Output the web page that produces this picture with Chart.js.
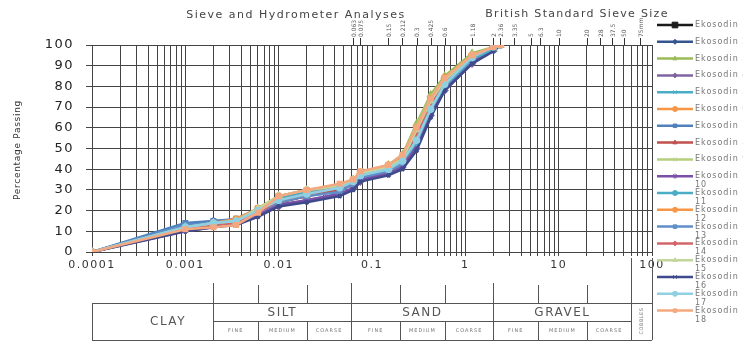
<!DOCTYPE html>
<html>
<head>
<meta charset="utf-8">
<title>Sieve and Hydrometer Analyses</title>
<script src="https://cdn.jsdelivr.net/npm/chart.js@4.4.0/dist/chart.umd.min.js"></script>
<style>
  html, body { margin: 0; padding: 0; background: #fff; overflow: hidden; }
  #wrap { position: relative; width: 743px; height: 343px; }
</style>
</head>
<body>
<div id="wrap"><canvas id="grading" width="743" height="343"></canvas></div>
<script>
// particle size (mm) of each reading: hydrometer first, then BS sieves
const sizes = [0.0001, 0.001, 0.002, 0.0035, 0.006, 0.01, 0.02, 0.045, 0.063, 0.075, 0.15, 0.212, 0.3, 0.425, 0.6, 1.18, 2, 2.36];

const seriesNames = [
  'Ekosodin 1', 'Ekosodin 2', 'Ekosodin 3', 'Ekosodin 4', 'Ekosodin 5', 'Ekosodin 6',
  'Ekosodin 7', 'Ekosodin 8', 'Ekosodin 9', 'Ekosodin 10', 'Ekosodin 11', 'Ekosodin 12',
  'Ekosodin 13', 'Ekosodin 14', 'Ekosodin 15', 'Ekosodin 16', 'Ekosodin 17', 'Ekosodin 18'
];

// percentage passing, one row per sample
const passing = [
  [0, 12, 14, 14, 19, 24, 27, 30, 33, 36, 40, 43, 55, 70, 80, 93, 98, 100],
  [0, 13, 15, 15, 20, 25, 28, 31, 34, 37, 40, 44, 58, 72, 82, 94, 99, 100],
  [0, 12, 14, 15, 21, 27, 29, 32, 35, 38, 42, 47, 62, 76, 85, 96, 99, 100],
  [0, 11, 13, 14, 18, 22, 25, 28, 31, 34, 38, 41, 50, 66, 78, 91, 98, 100],
  [0, 12, 14, 15, 20, 25, 28, 30, 33, 36, 39, 42, 52, 68, 80, 93, 98, 100],
  [0, 11, 13, 15, 20, 26, 29, 31, 34, 37, 41, 45, 59, 74, 84, 95, 99, 100],
  [0, 14, 15, 16, 21, 26, 28, 30, 33, 37, 40, 43, 56, 71, 81, 94, 99, 100],
  [0, 12, 14, 15, 19, 24, 27, 30, 33, 36, 39, 43, 55, 70, 81, 93, 98, 100],
  [0, 11, 13, 15, 21, 27, 30, 32, 35, 38, 42, 46, 61, 75, 84, 95, 99, 100],
  [0, 10, 12, 14, 18, 23, 25, 28, 31, 35, 38, 41, 51, 67, 79, 92, 98, 100],
  [0, 11, 13, 15, 20, 26, 29, 31, 34, 37, 40, 44, 53, 69, 80, 93, 98, 100],
  [0, 12, 14, 16, 21, 27, 30, 32, 35, 38, 42, 46, 60, 74, 84, 95, 99, 100],
  [0, 13, 14, 15, 19, 24, 27, 29, 33, 36, 39, 43, 55, 70, 81, 94, 99, 100],
  [0, 11, 13, 14, 19, 25, 28, 31, 34, 37, 41, 45, 57, 72, 82, 94, 99, 100],
  [0, 12, 14, 15, 21, 27, 30, 32, 35, 38, 41, 45, 59, 73, 83, 95, 99, 100],
  [0, 10, 12, 13, 17, 22, 24, 27, 30, 34, 37, 40, 49, 65, 78, 91, 97, 100],
  [0, 12, 14, 15, 20, 25, 28, 31, 34, 37, 40, 44, 54, 69, 81, 94, 99, 100],
  [0, 11, 12, 13, 19, 27, 30, 33, 35, 39, 42, 47, 60, 74, 84, 95, 99, 100]
];

const lineColors = [
  '#1a1a1a', '#34558f', '#9bbb59', '#8064a2', '#4bacc6', '#f79646',
  '#4f81bd', '#c0504d', '#b5cf7e', '#7a4fa8', '#4bacc6', '#f79646',
  '#5f8fc9', '#d2666a', '#c3d69b', '#3e4a8c', '#8fd0e3', '#f4a880'
];
const pointStyles = [
  'rect', 'rectRot', 'triangle', 'rectRot', 'crossRot', 'circle',
  'rect', 'triangle', 'crossRot', 'star', 'circle', 'circle',
  'rect', 'rectRot', 'triangle', 'crossRot', 'circle', 'rect'
];

const decades = [0.0001, 0.001, 0.01, 0.1, 1, 10, 100];
const decadeLabels = ['0.0001', '0.001', '0.01', '0.1', '1', '10', '100'];
const yTicks = [0, 10, 20, 30, 40, 50, 60, 70, 80, 90, 100];

// British Standard sieve apertures marked along the top
const sieveSizes = [0.063, 0.075, 0.15, 0.212, 0.3, 0.425, 0.6, 1.18, 2, 2.36, 3.35, 5, 6.3, 10, 20, 28, 37.5, 50, 75];
const sieveLabels = ['0.063', '0.075', '0.15', '0.212', '0.3', '0.425', '0.6', '1.18', '2', '2.36', '3.35', '5', '6.3', '10', '20', '28', '37.5', '50', '75mm'];

// soil classification bands
const zoneBounds = [0.002, 0.06, 2, 60];
const subBounds = [0.006, 0.02, 0.2, 0.6, 6, 20];
const zoneNames = ['SILT', 'SAND', 'GRAVEL'];
const subNames = ['FINE', 'MEDIUM', 'COARSE'];

// minor grid at 1..9 of every decade
const gridValues = [];
for (let d = 0; d < decades.length - 1; d++) {
  for (let m = 1; m <= 9; m++) gridValues.push(m * decades[d]);
}
gridValues.push(100);

const GRID = '#444';
const FONT = 'DejaVu Sans';

function text(ctx, str, x, y, opt) {
  ctx.save();
  ctx.font = (opt.size || 10) + 'px "' + FONT + '"';
  ctx.fillStyle = opt.color || '#333';
  ctx.textAlign = opt.align || 'center';
  ctx.textBaseline = 'middle';
  ctx.letterSpacing = (opt.spacing || 0) + 'px';
  ctx.translate(x, y);
  if (opt.rotate) ctx.rotate(opt.rotate);
  ctx.fillText(str, 0, 0);
  ctx.restore();
}

function vline(ctx, x, y1, y2) {
  ctx.beginPath();
  ctx.moveTo(Math.round(x) + 0.5, y1);
  ctx.lineTo(Math.round(x) + 0.5, y2);
  ctx.stroke();
}
function hline(ctx, x1, x2, y) {
  ctx.beginPath();
  ctx.moveTo(x1, y + 0.5);
  ctx.lineTo(x2, y + 0.5);
  ctx.stroke();
}

const extras = {
  id: 'extras',
  beforeDraw(chart) {
    chart.ctx.letterSpacing = '1.5px';
  },
  afterDraw(chart) {
    const ctx = chart.ctx;
    const xs = chart.scales.x;
    const area = chart.chartArea;
    const px = v => xs.getPixelForValue(v);
    ctx.letterSpacing = '0px';

    // titles
    text(ctx, 'Sieve and Hydrometer Analyses', 296, 15, { size: 11, color: '#444', spacing: 1.5 });
    text(ctx, 'British Standard Sieve Size', 577, 14, { size: 11, color: '#444', spacing: 1.3 });
    text(ctx, 'Percentage Passing', 18, 150, { size: 9, color: '#333', spacing: 0.7, rotate: -Math.PI / 2 });

    // sieve marks
    ctx.strokeStyle = '#333';
    ctx.lineWidth = 1;
    sieveSizes.forEach((s, i) => {
      const x = px(s);
      vline(ctx, x, 38, area.top);
      text(ctx, sieveLabels[i], x + 1, 37, { size: 6, color: '#555', align: 'left', rotate: -Math.PI / 2 });
    });

    // classification table
    const left = area.left, right = area.right;
    const tTop = 303, tMid = 321, tBot = 340;
    ctx.strokeStyle = '#555';
    hline(ctx, left, right, tTop);
    hline(ctx, px(zoneBounds[0]), px(zoneBounds[3]), tMid);
    hline(ctx, left, right, tBot);
    vline(ctx, left, tTop, tBot);
    vline(ctx, right, 258, tBot);
    zoneBounds.forEach(b => vline(ctx, px(b), b === 60 ? 258 : 283, tBot));
    subBounds.forEach(b => {
      vline(ctx, px(b), 285, tTop);
      vline(ctx, px(b), tMid, tBot);
    });
    text(ctx, 'CLAY', 168, 322, { size: 12, color: '#555', spacing: 1.5 });
    for (let z = 0; z < 3; z++) {
      const a = zoneBounds[z], b = zoneBounds[z + 1];
      text(ctx, zoneNames[z], (px(a) + px(b)) / 2, 313, { size: 12, color: '#555', spacing: 1.5 });
      const cells = [a, subBounds[z * 2], subBounds[z * 2 + 1], b];
      for (let c = 0; c < 3; c++) {
        text(ctx, subNames[c], (px(cells[c]) + px(cells[c + 1])) / 2, 331, { size: 5, color: '#777', spacing: 1 });
      }
    }
    text(ctx, 'COBBLES', (px(60) + right) / 2, 321, { size: 5, color: '#777', spacing: 0.5, rotate: -Math.PI / 2 });

    // legend
    seriesNames.forEach((name, i) => {
      const y = 25 + 16.8 * i;
      ctx.strokeStyle = lineColors[i];
      ctx.lineWidth = 2.5;
      ctx.beginPath();
      ctx.moveTo(657, y);
      ctx.lineTo(693, y);
      ctx.stroke();
      if (Chart.helpers && Chart.helpers.drawPoint) {
        ctx.fillStyle = lineColors[i];
        ctx.lineWidth = 1;
        Chart.helpers.drawPoint(ctx, { pointStyle: pointStyles[i], radius: i === 0 ? 4 : 2.5, borderWidth: 1 }, 675, y);
      }
      const parts = name.split(' ');
      if (parts[1].length < 2) {
        text(ctx, name, 695, y, { size: 8, color: '#777', align: 'left', spacing: 1 });
      } else {
        text(ctx, parts[0], 695, y, { size: 8, color: '#777', align: 'left', spacing: 1 });
        text(ctx, parts[1], 695, y + 9, { size: 8, color: '#777', align: 'left', spacing: 1 });
      }
    });
  }
};

new Chart(document.getElementById('grading'), {
  type: 'line',
  data: {
    datasets: passing.map((vals, i) => ({
      label: seriesNames[i],
      data: vals.map((p, k) => ({ x: sizes[k], y: p })),
      borderColor: lineColors[i],
      backgroundColor: lineColors[i],
      borderWidth: 2.5,
      pointStyle: pointStyles[i],
      pointRadius: 2.5,
      tension: 0,
      order: -i   // later samples drawn on top, as in the spreadsheet
    }))
  },
  options: {
    responsive: false,
    animation: false,
    layout: { padding: { left: 0, top: 45, right: 91, bottom: 71 } },
    plugins: { legend: { display: false }, tooltip: { enabled: false } },
    scales: {
      x: {
        type: 'logarithmic',
        min: 0.0001,
        max: 100,
        afterBuildTicks: s => { s.ticks = gridValues.map(v => ({ value: v })); },
        afterFit: s => { s.height = 20; },
        ticks: {
          autoSkip: false, maxRotation: 0, minRotation: 0, padding: 3,
          color: '#333', font: { family: FONT, size: 11 },
          callback: v => {
            const i = decades.findIndex(d => Math.abs(Math.log10(v) - Math.log10(d)) < 1e-6);
            return i >= 0 ? decadeLabels[i] : '';
          }
        },
        grid: { color: GRID, tickLength: 4 },
        border: { color: GRID }
      },
      y: {
        min: 0,
        max: 100,
        afterBuildTicks: s => { s.ticks = yTicks.map(v => ({ value: v })); },
        afterFit: s => { s.width = 92; },
        ticks: { padding: 12, color: '#222', font: { family: FONT, size: 13 } },
        grid: { color: GRID, tickLength: 6 },
        border: { color: GRID }
      }
    }
  },
  plugins: [extras]
});
</script>
</body>
</html>
